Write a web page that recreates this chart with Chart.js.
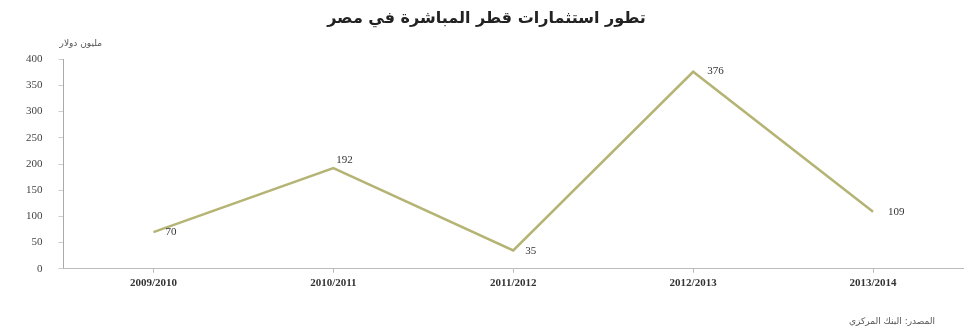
<!DOCTYPE html>
<html>
<head>
<meta charset="utf-8">
<script src="https://cdn.jsdelivr.net/npm/chart.js@4"></script>
<style>
    html, body { margin: 0; padding: 0; background: #fff; }
    #wrap { position: relative; width: 969px; height: 332px; }
</style>
</head>
<body>
<div id="wrap"><canvas id="qatarChart"></canvas></div>
<script>
// Qatar direct investment in Egypt, million USD
const years = ['2009/2010', '2010/2011', '2011/2012', '2012/2013', '2013/2014'];
const investments = [70, 192, 35, 376, 109];
const yTicks = [0, 50, 100, 150, 200, 250, 300, 350, 400];

const chartTitle = 'تطور استثمارات قطر المباشرة في مصر';
const unitLabel = 'مليون دولار';
const sourceLabel = 'المصدر: البنك المركزي';

const serif = '"Liberation Serif", "DejaVu Serif", serif';
const arabic = '"DejaVu Sans", sans-serif';

// Value labels beside each point, plus unit and source notes
const notesPlugin = {
    id: 'notes',
    afterDatasetsDraw(chart) {
        const ctx = chart.ctx;
        const meta = chart.getDatasetMeta(0);
        ctx.save();
        ctx.font = '11px ' + serif;
        ctx.fillStyle = '#333';
        ctx.textBaseline = 'middle';
        ctx.textAlign = 'left';
        const shifts = [[12, 0], [3, -8], [12, 1], [14, -1], [15, 0]];
        meta.data.forEach((pt, i) => {
            ctx.fillText(String(investments[i]), pt.x + shifts[i][0], pt.y + shifts[i][1]);
        });

        ctx.font = '9px ' + arabic;
        ctx.fillStyle = '#555';
        ctx.direction = 'rtl';
        ctx.textAlign = 'right';
        ctx.fillText(unitLabel, 102, 44);
        ctx.fillText(sourceLabel, 935, 322);
        ctx.restore();
    }
};

const ctx = document.getElementById('qatarChart').getContext('2d');

new Chart(ctx, {
    type: 'line',
    data: {
        labels: years,
        datasets: [{
            data: investments,
            borderColor: '#b5b474',
            borderWidth: 2.5,
            pointRadius: 0,
            tension: 0,
            fill: false
        }]
    },
    options: {
        responsive: true,
        maintainAspectRatio: false,
        animation: false,
        layout: {
            padding: { left: 10, right: 6, top: 0, bottom: 38 }
        },
        plugins: {
            legend: { display: false },
            tooltip: { enabled: false },
            title: {
                display: true,
                text: chartTitle,
                color: '#222',
                font: { family: arabic, size: 16, weight: 'bold' },
                padding: { top: 9, bottom: 31 }
            }
        },
        scales: {
            y: {
                min: 0,
                max: 400,
                afterBuildTicks(axis) {
                    axis.ticks = yTicks.map(v => ({ value: v }));
                },
                ticks: {
                    color: '#444',
                    padding: 16,
                    font: { family: serif, size: 11 }
                },
                grid: {
                    drawOnChartArea: false,
                    tickLength: 5,
                    color: '#ccc'
                },
                border: { color: '#aaa' }
            },
            x: {
                offset: true,
                ticks: {
                    color: '#333',
                    padding: 4,
                    font: { family: serif, size: 11, weight: 'bold' }
                },
                grid: {
                    drawOnChartArea: false,
                    tickLength: 4,
                    color: '#bbb'
                },
                border: { color: '#bbb' }
            }
        }
    },
    plugins: [notesPlugin]
});
</script>
</body>
</html>
